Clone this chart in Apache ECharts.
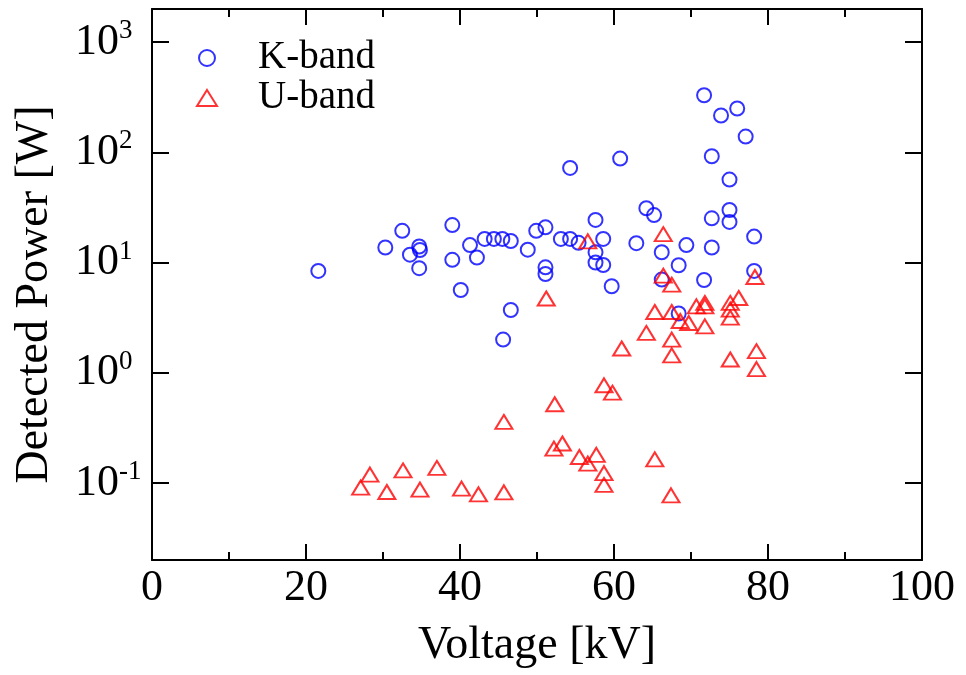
<!DOCTYPE html>
<html><head><meta charset="utf-8">
<script src="https://cdn.jsdelivr.net/npm/echarts@6/dist/echarts.min.js"></script>
<style>html,body{margin:0;padding:0;background:#fff}#c{width:966px;height:675px}</style>
</head><body><div id="c"></div>
<script>
const kVoltage = [21.6,30.3,32.5,33.5,34.7,34.8,34.7,39.0,39.0,40.1,41.3,42.2,43.2,44.4,45.5,45.6,46.6,46.6,48.8,49.9,51.1,51.1,51.1,53.1,54.3,54.3,55.4,57.6,57.6,57.6,58.6,58.6,59.7,60.8,62.9,64.2,65.2,66.2,66.2,68.4,68.4,69.4,71.7,71.7,72.7,72.7,72.7,73.9,75.0,75.0,75.0,76.0,77.1,78.2,78.2];
const kPower   = [8.4,13.7,19.4,11.8,14.0,13.0,8.9,21.9,10.6,5.64,14.4,11.1,16.4,16.4,16.4,2.0,15.7,3.71,13.1,19.4,20.9,9.06,7.88,16.4,16.4,72.2,15.1,24.4,12.4,10.0,16.4,9.5,6.1,87.9,15.0,31.1,27.0,12.4,7.01,9.45,3.45,14.4,330,6.95,92.2,25.2,13.7,216,56.6,30.0,23.4,250,139,17.2,8.4];
const uVoltage = [27.1,28.3,30.5,32.6,34.8,37.0,40.2,42.4,45.7,45.7,51.2,52.3,52.2,53.3,55.5,56.6,56.6,57.7,58.7,58.7,58.7,59.8,61.0,64.2,65.3,65.3,66.4,66.4,67.5,67.5,67.5,67.5,67.4,68.6,69.7,70.7,71.8,71.8,71.8,75.1,75.1,75.1,75.1,76.2,78.3,78.5,78.5];
const uPower   = [0.0908,0.119,0.0828,0.130,0.0871,0.137,0.0889,0.0789,0.0823,0.358,4.72,0.518,0.205,0.228,0.172,0.150,15.6,0.180,0.123,0.096,0.77,0.66,1.66,2.30,3.56,0.164,18.1,7.6,6.3,3.56,2.0,1.44,0.0773,2.95,2.83,4.01,4.30,4.01,2.64,4.30,3.74,3.17,1.32,4.77,7.4,1.57,1.08];
const seriesNames = ['K-band','U-band'];
const xTickValues = [0,20,40,60,80,100];
const yTickExponents = [-1,0,1,2,3];
const xTitle = 'Voltage [kV]';
const yTitle = 'Detected Power [W]';

const F = '"Liberation Serif","Times New Roman",serif';
const zip = (a,b) => a.map((v,i) => [v, b[i]]);

const xCommon = {
  type:'value', min:xTickValues[0], max:xTickValues[xTickValues.length-1], interval:20,
  axisLine:{show:true, onZero:false, lineStyle:{color:'#000', width:2}},
  axisTick:{show:true, inside:true, length:16, lineStyle:{color:'#000', width:2}},
  minorTick:{show:true, splitNumber:2, length:8, lineStyle:{color:'#000', width:2}},
  splitLine:{show:false}
};
const yCommon = {
  type:'log', logBase:10, min:0.02, max:2000,
  axisLine:{show:true, onZero:false, lineStyle:{color:'#000', width:2}},
  axisTick:{show:true, inside:true, length:17, lineStyle:{color:'#000', width:2}},
  minorTick:{show:false},
  splitLine:{show:false}
};
function yFmt(v){
  const l = Math.log10(v); const e = Math.round(l);
  if (Math.abs(l-e) > 1e-6 || yTickExponents.indexOf(e) < 0) return '';
  return '{b|10}{s|' + e + '}';
}

const chart = echarts.init(document.getElementById('c'), null, {renderer:'canvas'});
chart.setOption({
  animation:false,
  backgroundColor:'#fff',
  grid:{left:152, right:44, top:9, bottom:115, containLabel:false},
  legend:{orient:'vertical', left:196, top:38, padding:0, itemGap:0, itemWidth:20, itemHeight:16,
    formatter: name => '{sp|}{t|' + name + '}',
    textStyle:{fontSize:39, fontFamily:F, color:'#000', lineHeight:40,
      rich:{sp:{width:36, height:10}, t:{fontSize:39, fontFamily:F, color:'#000', lineHeight:40}}},
    data:seriesNames},
  xAxis:[
    Object.assign({}, xCommon, {position:'bottom',
      axisLabel:{show:true, margin:6, fontSize:44, fontFamily:F, color:'#000'},
      name:xTitle, nameLocation:'middle', nameGap:63,
      nameTextStyle:{fontSize:46, fontFamily:F, color:'#000'}}),
    Object.assign({}, xCommon, {position:'top', axisLabel:{show:false}})
  ],
  yAxis:[
    Object.assign({}, yCommon, {position:'left',
      axisLabel:{show:true, formatter:yFmt, align:'left', margin:77, color:'#000',
        rich:{b:{fontSize:44, fontFamily:F, color:'#000', lineHeight:49},
              s:{fontSize:27, fontFamily:F, color:'#000', verticalAlign:'top'}}},
      name:yTitle, nameLocation:'middle', nameGap:94, nameRotate:90,
      nameTextStyle:{fontSize:46, fontFamily:F, color:'#000', padding:[0,20,0,0]}}),
    Object.assign({}, yCommon, {position:'right', axisLabel:{show:false}})
  ],
  series:[
    {name:seriesNames[0], type:'scatter', xAxisIndex:0, yAxisIndex:0, symbol:'circle', symbolSize:14,
     itemStyle:{color:'rgba(0,0,0,0)', borderColor:'#0000ff', borderWidth:2},
     data:zip(kVoltage,kPower)},
    {name:seriesNames[1], type:'scatter', xAxisIndex:0, yAxisIndex:0, symbol:'triangle', symbolSize:[17,14],
     itemStyle:{color:'rgba(0,0,0,0)', borderColor:'#ff0000', borderWidth:2},
     data:zip(uVoltage,uPower)}
  ]
});
</script></body></html>
